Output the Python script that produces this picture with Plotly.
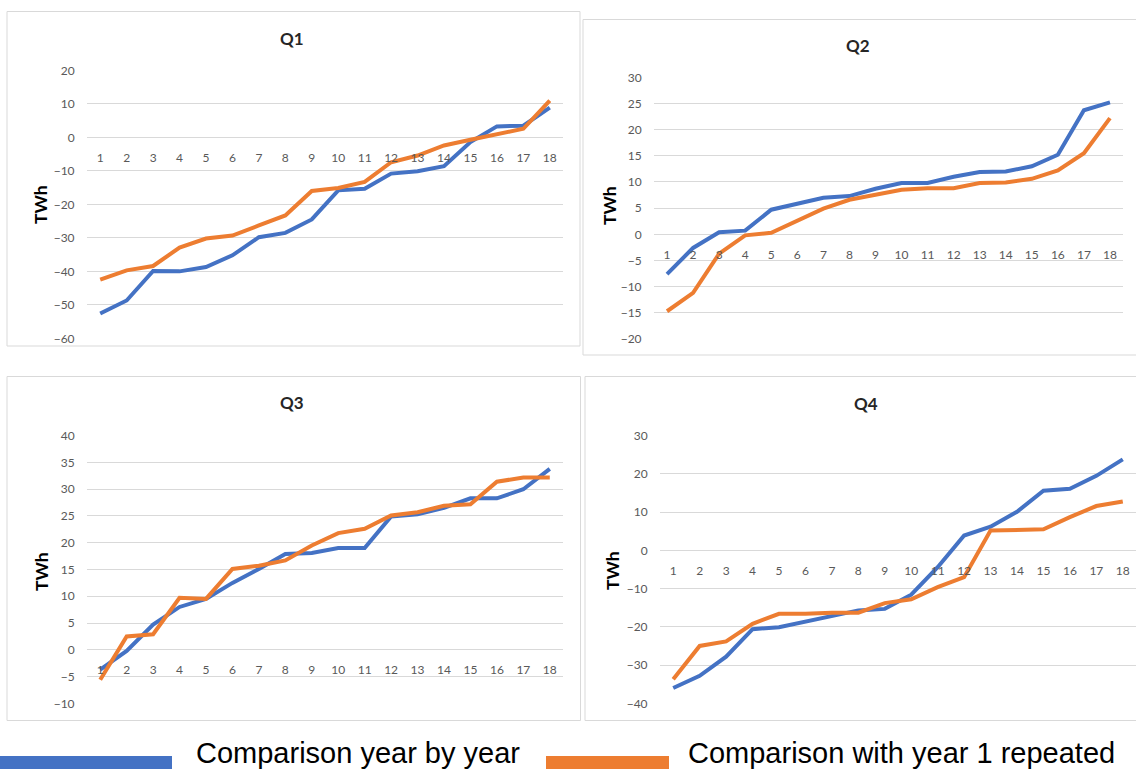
import plotly.graph_objects as go

# Year index shown on the category axis of every panel
years = list(range(1, 19))

# Q1 (TWh)
q1_year_by_year = [-52.6, -48.7, -39.9, -40.0, -38.7, -35.2, -29.8, -28.5, -24.5,
                   -15.8, -15.3, -10.8, -10.1, -8.6, -1.4, 3.3, 3.5, 8.9]
q1_year1_repeated = [-42.5, -39.7, -38.4, -32.9, -30.2, -29.3, -26.3, -23.3, -16.0,
                     -15.1, -13.3, -7.4, -5.4, -2.4, -0.7, 0.8, 2.6, 11.0]

# Q2 (TWh)
q2_year_by_year = [-7.6, -2.6, 0.4, 0.7, 4.7, 5.8, 7.0, 7.3, 8.7,
                   9.8, 9.8, 11.0, 11.9, 12.0, 13.0, 15.2, 23.7, 25.2]
q2_year1_repeated = [-14.7, -11.2, -3.7, -0.2, 0.3, 2.7, 4.9, 6.6, 7.6,
                     8.5, 8.8, 8.8, 9.8, 9.9, 10.6, 12.2, 15.5, 22.2]

# Q3 (TWh)
q3_year_by_year = [-3.7, -0.2, 4.7, 8.0, 9.5, 12.5, 15.1, 17.9, 18.1,
                   19.0, 19.0, 24.9, 25.3, 26.5, 28.3, 28.3, 30.0, 33.8]
q3_year1_repeated = [-5.6, 2.5, 2.9, 9.7, 9.5, 15.1, 15.7, 16.7, 19.5,
                     21.8, 22.6, 25.1, 25.7, 26.9, 27.2, 31.4, 32.2, 32.2]

# Q4 (TWh)
q4_year_by_year = [-36.0, -32.8, -27.8, -20.6, -20.1, -18.6, -17.3, -15.7, -15.3,
                   -11.6, -4.4, 3.9, 6.2, 10.1, 15.6, 16.1, 19.5, 23.8]
q4_year1_repeated = [-33.7, -25.0, -23.8, -19.2, -16.6, -16.6, -16.3, -16.3, -13.8,
                     -12.8, -9.6, -7.0, 5.2, 5.4, 5.5, 8.7, 11.6, 12.8]

series_names = ["Comparison year by year", "Comparison with year 1 repeated"]
panel_titles = ["Q1", "Q2", "Q3", "Q4"]
y_ranges = [(-60, 20), (-20, 30), (-10, 40), (-40, 30)]
y_steps = [10, 5, 5, 10]

W, H = 1136, 771
BLUE = "#4472C4"
ORANGE = "#ED7D31"
GRID = "#D9D9D9"
TICK = "#595959"


def fx(px):
    return px / W


def fy(py):
    return 1 - py / H


# Plot-area boxes in pixels: (left, right, top, bottom)
plot_boxes = [(87, 563, 70.5, 338.3),
              (654, 1123, 77.3, 339.0),
              (87, 563, 435.7, 703.3),
              (660, 1136, 435.7, 703.3)]
# Outer chart frames in pixels
frames = [(7, 580, 11.5, 346), (583, 1137, 19.5, 355),
          (7, 580.5, 376.5, 720.5), (585, 1137, 376.5, 720.5)]
title_pos = [(292, 38), (858, 45), (292, 402), (866, 403)]
unit_pos = [(41, 205), (610, 206), (41, 572), (612, 570)]

data = [(q1_year_by_year, q1_year1_repeated),
        (q2_year_by_year, q2_year1_repeated),
        (q3_year_by_year, q3_year1_repeated),
        (q4_year_by_year, q4_year1_repeated)]

fig = go.Figure()
layout = dict(
    width=W, height=H,
    margin=dict(l=0, r=0, t=0, b=0, autoexpand=False),
    paper_bgcolor="white", plot_bgcolor="white",
    showlegend=False,
    shapes=[], annotations=[],
)

tick_font = dict(family="Lato, 'Open Sans', sans-serif", size=12, color=TICK)

for i, (blue, orange) in enumerate(data):
    n = i + 1
    xa = "x" if n == 1 else f"x{n}"
    ya = "y" if n == 1 else f"y{n}"
    xkey = "xaxis" if n == 1 else f"xaxis{n}"
    ykey = "yaxis" if n == 1 else f"yaxis{n}"
    left, right, top, bottom = plot_boxes[i]
    ymin, ymax = y_ranges[i]
    ydom = [fy(bottom), fy(top)]

    fig.add_trace(go.Scatter(x=years, y=blue, mode="lines", name=series_names[0],
                             line=dict(color=BLUE, width=4),
                             xaxis=xa, yaxis=ya))
    fig.add_trace(go.Scatter(x=years, y=orange, mode="lines", name=series_names[1],
                             line=dict(color=ORANGE, width=4),
                             xaxis=xa, yaxis=ya))

    # category axis crosses the value axis at zero
    zero_pos = ydom[0] + (0 - ymin) / (ymax - ymin) * (ydom[1] - ydom[0])
    layout[xkey] = dict(
        domain=[fx(left), fx(right)], range=[0.5, 18.5],
        anchor="free", position=zero_pos,
        tickmode="array", tickvals=years, ticktext=[str(v) for v in years],
        showgrid=False, zeroline=False, showline=False,
        ticks="outside", ticklen=9, tickcolor="rgba(0,0,0,0)",
        tickfont=tick_font, fixedrange=True, automargin=False,
    )
    layout[ykey] = dict(
        domain=ydom, range=[ymin, ymax], anchor=xa,
        dtick=y_steps[i], tick0=0,
        showgrid=True, gridcolor=GRID, gridwidth=1,
        zeroline=False, showline=False,
        ticks="outside", ticklen=9, tickcolor="rgba(0,0,0,0)",
        tickfont=tick_font, fixedrange=True, automargin=False,
    )

    fl, fr, ft, fb = frames[i]
    layout["shapes"].append(dict(type="rect", xref="paper", yref="paper",
                                 x0=fx(fl), x1=fx(fr), y0=fy(fb), y1=fy(ft),
                                 line=dict(color=GRID, width=1), layer="below"))

    tx, ty = title_pos[i]
    layout["annotations"].append(dict(
        text=f"<b>{panel_titles[i]}</b>", xref="paper", yref="paper",
        x=fx(tx), y=fy(ty), xanchor="center", yanchor="middle", showarrow=False,
        font=dict(family="Lato, 'Open Sans', sans-serif", size=17, color="#262626")))

    ux, uy = unit_pos[i]
    layout["annotations"].append(dict(
        text="<b>TWh</b>", xref="paper", yref="paper", textangle=-90,
        x=fx(ux), y=fy(uy), xanchor="center", yanchor="middle", showarrow=False,
        font=dict(family="Lato, 'Open Sans', sans-serif", size=17.5, color="#000000")))

# Legend along the bottom edge
legend_items = [(0, 172, 197, BLUE, series_names[0]),
                (546, 669, 689, ORANGE, series_names[1])]
for x0, x1, tx, color, label in legend_items:
    layout["shapes"].append(dict(type="rect", xref="paper", yref="paper",
                                 x0=fx(x0), x1=fx(x1), y0=fy(769), y1=fy(756),
                                 fillcolor=color, line=dict(width=0)))
    layout["annotations"].append(dict(
        text=label, xref="paper", yref="paper",
        x=fx(tx - 2), y=fy(753), xanchor="left", yanchor="middle", showarrow=False,
        borderpad=0,
        font=dict(family="'Liberation Sans', Arial, sans-serif", size=29, color="#000000")))

fig.update_layout(**layout)
fig.write_html("out.html")
